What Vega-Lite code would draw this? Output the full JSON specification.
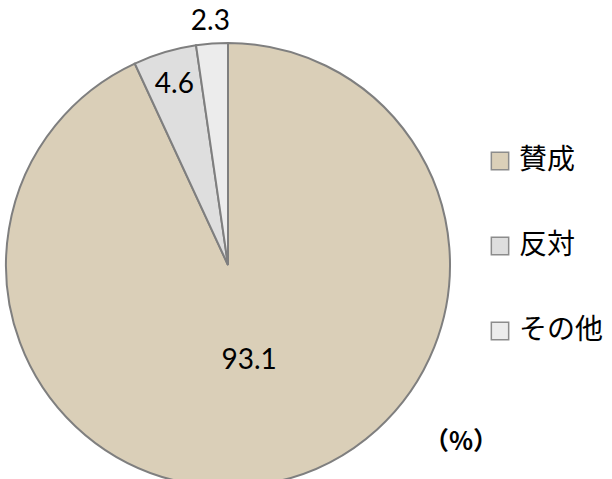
{
  "$schema": "https://vega.github.io/schema/vega-lite/v6.json",
  "width": 456,
  "height": 530,
  "padding": 0,
  "background": "white",
  "config": {"view": {"stroke": null}},
  "title": {"text": "（%）", "orient": "bottom", "anchor": "end", "frame": "group", "fontSize": 25, "font": "Noto Sans CJK JP", "fontWeight": "bold", "color": "black", "dx": 42, "dy": -104},
  "data": {"values": [
    {"item": "賛成", "pct": 93.1, "rank": 1},
    {"item": "反対", "pct": 4.6, "rank": 2},
    {"item": "その他", "pct": 2.3, "rank": 3}
  ]},
  "encoding": {
    "theta": {"field": "pct", "type": "quantitative", "stack": true},
    "order": {"field": "rank", "type": "quantitative"}
  },
  "layer": [
    {
      "mark": {"type": "arc", "radius": 222, "stroke": "#7f7f7f", "strokeWidth": 2},
      "encoding": {
        "color": {
          "field": "item", "type": "nominal",
          "sort": ["賛成", "反対", "その他"],
          "scale": {"domain": ["賛成", "反対", "その他"], "range": ["#dacfb8", "#dedede", "#ececec"]},
          "legend": {
            "title": null, "orient": "none", "legendX": 486, "legendY": 147,
            "symbolType": "square", "symbolSize": 300, "symbolStrokeColor": "#8c8c8c", "symbolStrokeWidth": 1.5,
            "labelFontSize": 28, "labelFont": "Noto Sans CJK JP", "labelColor": "black",
            "labelOffset": 5, "rowPadding": 57, "padding": 0
          }
        }
      }
    },
    {
      "mark": {"type": "text", "radius": 98, "font": "Lato", "fontSize": 28, "color": "black", "align": "center", "baseline": "middle"},
      "encoding": {"text": {"condition": {"test": "datum.item === '賛成'", "field": "pct", "type": "quantitative", "format": ".1f"}, "value": ""}}
    },
    {
      "mark": {"type": "text", "radius": 188, "font": "Lato", "fontSize": 28, "color": "black", "align": "center", "baseline": "middle"},
      "encoding": {"text": {"condition": {"test": "datum.item === '反対'", "field": "pct", "type": "quantitative", "format": ".1f"}, "value": ""}}
    },
    {
      "mark": {"type": "text", "radius": 244, "font": "Lato", "fontSize": 28, "color": "black", "align": "center", "baseline": "middle"},
      "encoding": {"text": {"condition": {"test": "datum.item === 'その他'", "field": "pct", "type": "quantitative", "format": ".1f"}, "value": ""}}
    }
  ]
}
